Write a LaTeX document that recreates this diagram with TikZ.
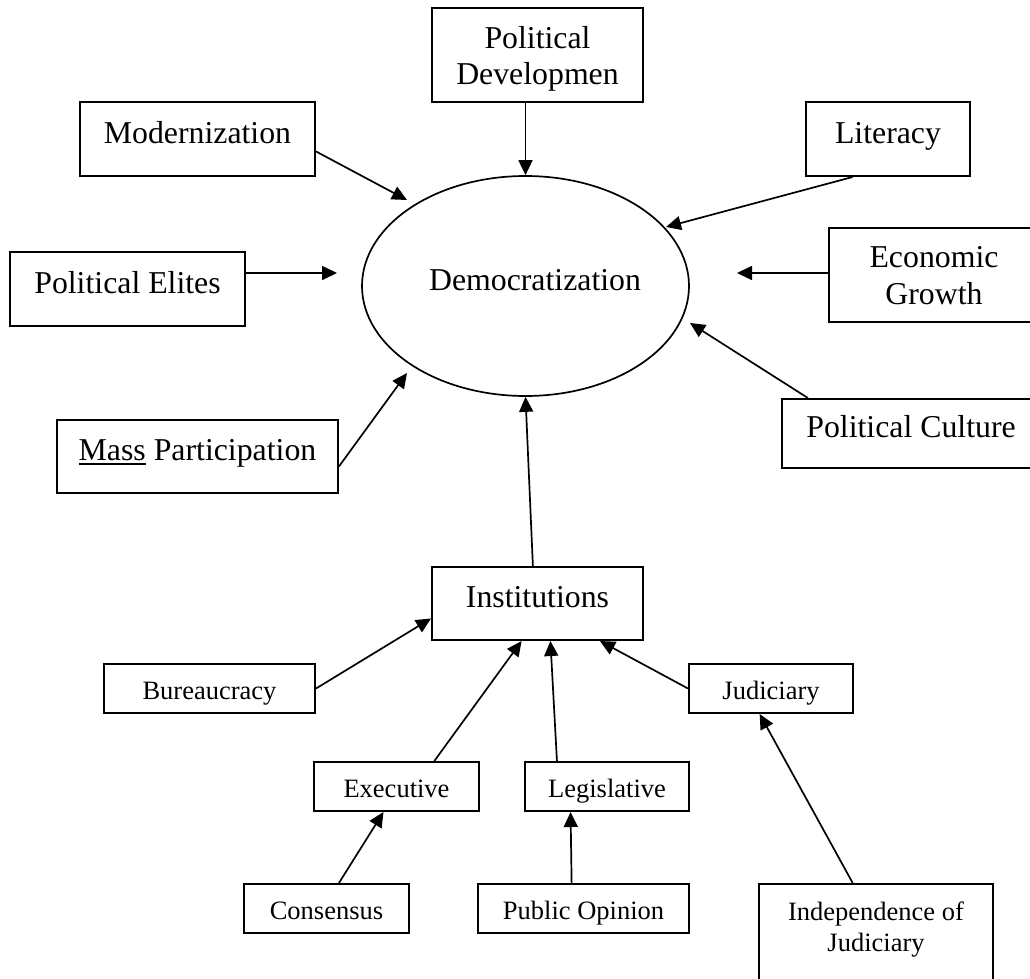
\documentclass[tikz,border=0pt]{standalone}
\usepackage{fontspec}
\setmainfont{Liberation Serif}
\usetikzlibrary{arrows.meta,shapes.geometric}
\newcommand\fbig{\fontsize{31.8}{36.8}\selectfont}
\newcommand\fsmall{\fontsize{26.5}{30.5}\selectfont}
\begin{document}
\begin{tikzpicture}[x=1pt,y=-1pt,
  box/.style={draw, line width=2pt, inner sep=0pt, rectangle},
  bigbox/.style={box, font=\fbig, text height=22pt, text depth=14pt},
  smallbox/.style={box, font=\fsmall, text height=24pt, text depth=2pt},
  arr/.style={line width=1.7pt, -{Triangle[length=15pt,width=14pt]}}]
\useasboundingbox (0,0) rectangle (1030,979);
\clip (0,0) rectangle (1030,979);
\fill[white] (0,0) rectangle (1030,979);

% central ellipse
\node[ellipse, draw, line width=1.7pt, inner sep=0pt, minimum width=327pt, minimum height=220pt,
      font=\fbig, text height=22pt, text depth=14pt] (dem) at (525.5,286) {\hspace*{19pt}Democratization};

% outer factors
\node[box, font=\fbig, align=center, minimum width=211pt, minimum height=94pt, text height=70pt, text depth=10pt]
  (pd) at (537.5,55) {Political\\Developmen};
\node[bigbox, minimum width=235pt, minimum height=74pt] (mod) at (197.5,139) {Modernization};
\node[bigbox, minimum width=235pt, minimum height=74pt] (pe) at (127.5,289) {Political Elites};
\node[bigbox, minimum width=281pt, minimum height=73pt] (mp) at (197.5,456.5)
  {{\setbox0=\hbox{Mass}\rlap{\rule[-4pt]{\wd0}{1.6pt}}Mass} Participation};
\node[bigbox, minimum width=164pt, minimum height=74pt] (lit) at (888,139) {Literacy};
\node[box, font=\fbig, align=center, minimum width=210pt, minimum height=94pt, text height=69pt, text depth=11pt]
  (eg) at (934,275) {Economic\\Growth};
\node[bigbox, minimum width=258pt, minimum height=69pt] (pc) at (911,433.5) {Political Culture};

% institutions
\node[bigbox, minimum width=211pt, minimum height=73pt] (inst) at (537.5,603.5) {Institutions};
\node[smallbox, minimum width=211pt, minimum height=49pt] (bur) at (209.5,688.5) {Bureaucracy};
\node[smallbox, minimum width=165pt, minimum height=49pt] (exe) at (396.5,786.5) {Executive};
\node[smallbox, minimum width=164pt, minimum height=49pt] (leg) at (607,786.5) {Legislative};
\node[smallbox, minimum width=164pt, minimum height=49pt] (jud) at (771,688.5) {Judiciary};
\node[smallbox, minimum width=165pt, minimum height=49pt] (con) at (326.5,908.5) {Consensus};
\node[smallbox, minimum width=211pt, minimum height=49pt] (po) at (583.5,908.5) {Public Opinion};
\node[box, font=\fsmall, align=center, minimum width=234pt, minimum height=126pt, text height=67pt, text depth=59pt]
  (ind) at (876,947) {Independence of\\Judiciary};

% free arrow tips near the ellipse
\coordinate (t-mod) at (407,200);
\coordinate (t-pe) at (337,273);
\coordinate (t-mp) at (407,373);
\coordinate (t-lit) at (666,227);
\coordinate (t-eg) at (737,273);
\coordinate (t-pc) at (690,323);

% connectors
\draw[arr] (dem |- pd.south) -- (dem.north);
\draw[arr] (mod.-6.3) -- (t-mod);
\draw[arr] (pe.east |- t-pe) -- (t-pe);
\draw[arr] (mp.-4.7) -- (t-mp);
\draw[arr] (lit.-133.4) -- (t-lit);
\draw[arr] (eg.west |- t-eg) -- (t-eg);
\draw[arr] (pc.161.65) -- (t-pc);
\draw[arr] (inst.97) -- (dem.south);
\draw[arr] (bur.east) -- (inst.-172.7);
\draw[arr] (exe.34.6) -- (inst.-113);
\draw[arr] (leg.153.9) -- (inst.-71.1);
\draw[arr] (jud.west) -- (inst.-31.5);
\draw[arr] (con.64.9) -- (exe.-117);
\draw[arr] (po.115.1) -- (leg.-145);
\draw[arr] (ind.110.05) -- (jud.-114.2);
\end{tikzpicture}
\end{document}
